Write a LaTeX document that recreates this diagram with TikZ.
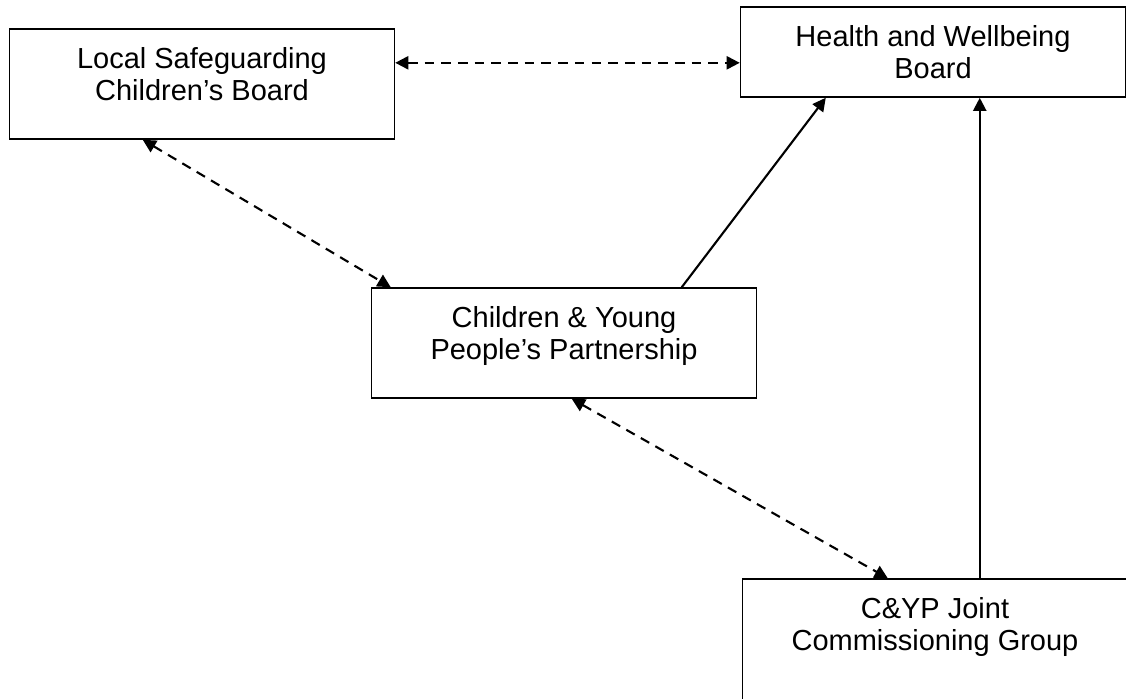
\documentclass[tikz,border=0pt]{standalone}
\usepackage{fontspec}
\setmainfont{Liberation Sans}
\usetikzlibrary{arrows.meta, positioning, calc}

\begin{document}
\begin{tikzpicture}[
  x=0.02cm, y=-0.02cm,
  board/.style={rectangle, draw=black, line width=0.9pt,
    fill=white, minimum width=7.7cm, minimum height=2.2cm,
    inner sep=0pt, align=center, text depth=0.42cm,
    font=\fontsize{16.5}{18.2}\selectfont},
  link/.style={{Triangle[length=7.5pt,width=7.5pt]}-{Triangle[length=7.5pt,width=7.5pt]},
    line width=1.2pt, dash pattern=on 5.5pt off 4pt},
  feed/.style={-{Triangle[length=7.5pt,width=7.5pt]}, line width=1.2pt}
]
\useasboundingbox (0,0) rectangle (1126,698);

% Boards
\node[board] (LSCB) at (202,84)
  {Local Safeguarding\\Children’s Board};
\node[board, minimum height=1.8cm, text depth=0cm] (HWB) at (933,52)
  {Health and Wellbeing\\Board};
\node[board] (CYPP) at (564,343)
  {Children \& Young\\People’s Partnership};
\node[board, minimum height=2.8cm, text depth=1.02cm] (JCG) at (935,649)
  {C\&YP Joint\\Commissioning Group};

% Two-way links (dashed)
\coordinate (L1) at ($(LSCB.north east)!0.31!(LSCB.south east)$);
\draw[link] (L1) -- (L1 -| HWB.west);
\draw[link] ($(LSCB.south west)+(134,0)$) -- ($(CYPP.north west)+(20,0)$);
\draw[link] ($(CYPP.south west)+(201,0)$) -- ($(JCG.north west)+(146,0)$);

% Reporting lines
\draw[feed] ($(CYPP.north west)+(311,0)$) -- ($(HWB.south west)+(86,0)$);
\coordinate (J1) at ($(JCG.north west)+(238,0)$);
\draw[feed] (J1) -- (J1 |- HWB.south);
\end{tikzpicture}
\end{document}
